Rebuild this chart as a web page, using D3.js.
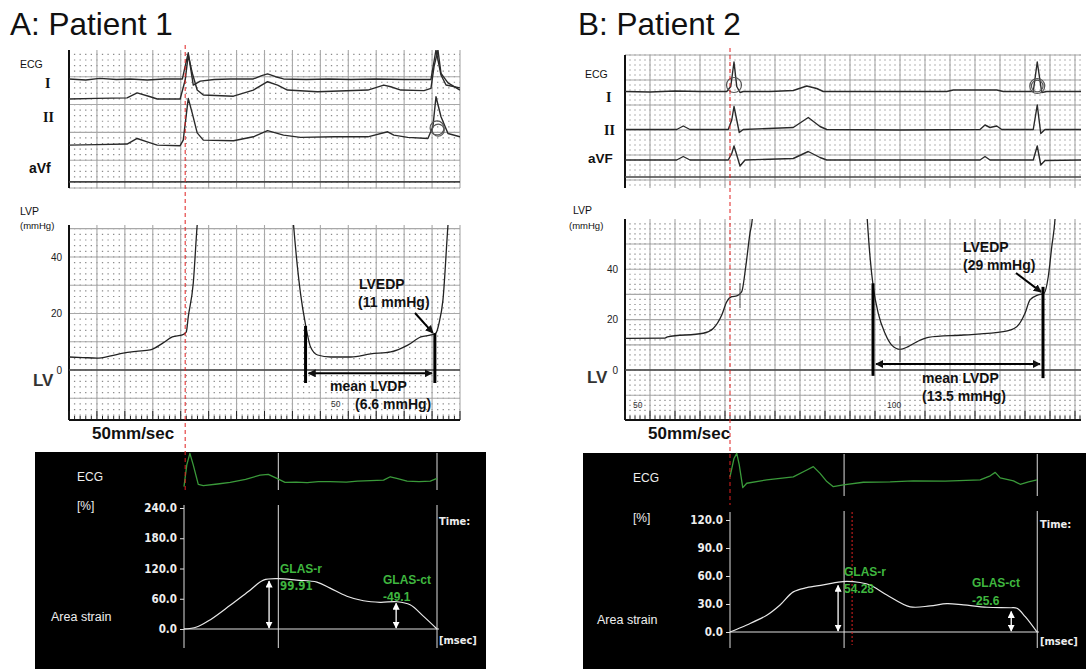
<!DOCTYPE html>
<html>
<head>
<meta charset="utf-8">
<script src="https://cdn.jsdelivr.net/npm/d3@7"></script>
<style>
  body { margin: 0; background: #fff; }
  svg { display: block; font-family: Arial, "Liberation Sans", sans-serif; }
</style>
</head>
<body>
<svg width="1086" height="669"></svg>
<script>
// ---------------- data ----------------
// ECG strips: time in ms (50 mm/sec paper), amplitude in paper mm above strip bottom
var ecgA_I   = [[0,19.6],[60,19.4],[110,19.7],[170,19.5],[219,19.6],[280,19.4],[340,19.6],[406,19.6],[416,21.9],[427,24.3],[445,18.5],[470,19.2],[520,19.5],[578,19.6],[660,19.6],[690,20.2],[711,20.5],[740,20.0],[768,19.6],[850,19.5],[930,19.6],[1009,19.5],[1100,19.6],[1200,19.5],[1296,19.5],[1314,24.8],[1332,20.3],[1350,18.5],[1400,18.0]];
var ecgA_I2  = [[0,16.0],[100,16.1],[208,16.2],[244,17.1],[291,16.4],[316,16.0],[398,16.0],[416,19.4],[427,23.9],[441,20.7],[459,17.6],[481,16.7],[589,16.5],[660,17.6],[711,19.1],[747,18.5],[782,17.6],[890,17.3],[1070,17.6],[1127,18.5],[1152,18.2],[1188,17.6],[1271,17.5],[1296,17.9],[1307,21.8],[1321,24.8],[1332,20.6],[1357,18.9],[1400,17.6]];
var ecgA_II  = [[0,7.7],[100,7.8],[208,7.9],[244,8.9],[280,8.3],[316,7.7],[398,7.6],[409,8.6],[427,16.1],[441,13.5],[459,9.9],[481,8.6],[589,8.5],[660,9.2],[711,10.3],[768,9.5],[829,9.1],[950,9.2],[1070,9.2],[1141,10.1],[1163,9.5],[1213,9.1],[1285,8.9],[1303,11.0],[1314,16.4],[1332,12.8],[1357,9.8],[1400,9.2]];
var ecgB_I   = [[0,17.7],[100,17.6],[200,17.8],[300,17.7],[407,17.7],[423,18.7],[436,23.6],[447,18.7],[460,17.5],[473,17.7],[580,17.7],[673,17.9],[727,18.8],[767,18.3],[793,17.7],[1000,17.7],[1287,17.7],[1313,18.0],[1487,18.0],[1513,17.7],[1633,17.7],[1649,23.6],[1667,17.5],[1687,17.7],[1824,17.7]];
var ecgB_II  = [[0,10.1],[207,10.1],[233,10.8],[260,10.1],[413,10.1],[427,12.0],[436,14.7],[447,12.0],[457,9.5],[473,10.1],[673,10.5],[733,12.5],[780,10.7],[807,10.1],[1100,10.0],[1420,10.1],[1440,11.0],[1460,10.5],[1487,10.8],[1507,10.1],[1633,10.1],[1649,15.0],[1663,9.3],[1680,10.1],[1824,10.1]];
var ecgB_aVF = [[0,4.0],[207,4.0],[233,4.7],[260,4.0],[413,4.0],[427,5.3],[436,6.8],[447,5.0],[460,2.8],[480,4.0],[673,4.3],[733,5.7],[780,4.5],[807,4.0],[1100,4.0],[1420,4.0],[1440,4.7],[1460,4.0],[1633,4.0],[1649,6.8],[1663,3.0],[1680,3.9],[1824,4.0]];

// LV pressure (ms, mmHg), two beats per patient
var lvpA1 = [[0,4.6],[50,4.4],[100,4.2],[150,5.0],[194,6.0],[240,6.6],[291,7.1],[337,9.6],[370,11.7],[406,12.4],[420,13.5],[427,18.8],[445,30.8],[459,51.3],[467,60]];
var lvpA2 = [[797,60],[804,51.3],[829,27],[847,16],[865,8.1],[890,5.3],[937,4.6],[1009,4.6],[1080,5.7],[1152,6.4],[1213,8.8],[1260,11.7],[1296,12.4],[1314,13.1],[1325,16.6],[1339,24.8],[1357,51.3],[1364,60]];
var lvpB1 = [[0,12.6],[160,12.7],[170,13.2],[313,14.6],[353,16.5],[387,21.8],[407,27.1],[427,29.1],[447,29.4],[467,31.1],[483,41],[500,54.4],[509,59.8],[513,66]];
var lvpB2 = [[965,66],[969,59.8],[980,45],[993,33],[1013,22.5],[1040,14.6],[1067,9.9],[1100,8.2],[1133,9.3],[1167,11.2],[1213,13],[1353,13.9],[1513,15.2],[1567,17.2],[1600,22.5],[1620,27.8],[1653,29.8],[1676,30.4],[1693,37],[1707,48.9],[1720,59.8],[1724,66]];
var lvpTicks = [0, 20, 40];
var diastoleA = [847, 1310];   // ms, start / end of mean LVDP window
var diastoleB = [992, 1672];
var onsetA = 416, onsetB = 420; // QRS onset (red dashed line)

// Area strain (ms from QRS onset, %)
var strainA = [[0,0],[45,4],[93,18],[165,47],[236,77],[284,97],[337,99.9],[403,97],[475,93],[522,81],[582,65],[641,56],[701,53],[761,54],[808,48],[856,25],[904,0]];
var strainB = [[0,0],[67,7.5],[147,18],[200,29],[253,43],[307,47.5],[373,50.4],[433,53.5],[467,54.3],[520,53],[560,50.4],[627,39.7],[720,27],[800,28],[867,30.3],[933,29],[1027,26.5],[1120,26],[1147,25.4],[1180,16.4],[1227,0]];
var strainTicksA = [0, 60, 120, 180, 240];
var strainTicksB = [0, 30, 60, 90, 120];
var monA = [[0,-0.02],[10,0.64],[21,0.99],[33,0.64],[51,0.05],[69,0.01],[120,0.06],[165,0.11],[220,0.2],[272,0.33],[301,0.35],[332,0.23],[361,0.11],[400,0.12],[440,0.1],[480,0.13],[522,0.13],[580,0.12],[620,0.15],[713,0.18],[737,0.28],[760,0.23],[797,0.15],[840,0.13],[880,0.15],[904,0.23]];
var monB = [[0,0.30],[16,0.84],[27,0.99],[37,0.65],[51,-0.02],[67,0.11],[147,0.21],[253,0.30],[307,0.50],[333,0.60],[360,0.40],[387,0.16],[413,0.01],[453,0.06],[533,0.14],[640,0.15],[733,0.18],[860,0.17],[1000,0.21],[1040,0.33],[1060,0.43],[1080,0.27],[1133,0.18],[1160,0.08],[1193,0.15],[1227,0.21]];
var glasA = [[304, 97], [758, 53]];   // [time, value] of GLAS-r / GLAS-ct arrows
var glasB = [[432, 51], [1124, 23]];
var marksA = [337, 904], marksB = [456, 1228]; // ES / ED verticals
var esDotB = 488;

// ---------------- helpers ----------------
var svg = d3.select("svg");
var defs = svg.append("defs");

function marker(id, color, size) {
  defs.append("marker")
    .attr("id", id).attr("viewBox", "0 0 10 10")
    .attr("refX", 9).attr("refY", 5)
    .attr("markerWidth", size).attr("markerHeight", size)
    .attr("orient", "auto-start-reverse")
    .append("path").attr("d", "M0,0L10,5L0,10z").attr("fill", color);
}
marker("ahB", "#111", 4);
marker("ahW", "#fff", 5.5);

function steps(d, s) {
  var a = [];
  for (var i = Math.ceil(d[0] / s); i * s <= d[1] + 1e-6; i++) a.push(+(i * s).toFixed(4));
  return a;
}

function paper(g, x, y, xMaj, yMaj, xMin, yMin) {
  var xr = x.range(), yr = y.range();
  var dx = Math.abs(x(xMin) - x(0));
  var off = x(0) - x(steps(x.domain(), xMin)[0]);
  // minor grid: dots at the small-square corners
  g.selectAll(null).data(steps(y.domain(), yMin)).enter().append("line")
    .attr("y1", d => y(d)).attr("y2", d => y(d)).attr("x1", xr[0]).attr("x2", xr[1])
    .attr("stroke", "#8a8a8a").attr("stroke-width", 1.2)
    .attr("stroke-dasharray", "1.3," + (dx - 1.3)).attr("stroke-dashoffset", 0.65 + off);
  g.selectAll(null).data(steps(x.domain(), xMaj)).enter().append("line")
    .attr("x1", d => x(d)).attr("x2", d => x(d)).attr("y1", yr[0]).attr("y2", yr[1])
    .attr("stroke", "#a8a8a8").attr("stroke-width", 1.1);
  g.selectAll(null).data(steps(y.domain(), yMaj)).enter().append("line")
    .attr("y1", d => y(d)).attr("y2", d => y(d)).attr("x1", xr[0]).attr("x2", xr[1])
    .attr("stroke", "#a8a8a8").attr("stroke-width", 1.1);
  // left border
  g.append("line").attr("x1", xr[0]).attr("x2", xr[0]).attr("y1", yr[0]).attr("y2", yr[1])
    .attr("stroke", "#111").attr("stroke-width", 2);
}

function txt(x, y, s, size, opt) {
  opt = opt || {};
  return svg.append("text").attr("x", x).attr("y", y).text(s)
    .attr("font-size", size)
    .attr("font-weight", opt.w || "normal")
    .attr("font-family", opt.f || null)
    .attr("text-anchor", opt.a || "start")
    .attr("fill", opt.c || "#111");
}

function trace(g, data, x, y, color, w, curve) {
  g.append("path").datum(data)
    .attr("fill", "none").attr("stroke", color).attr("stroke-width", w)
    .attr("stroke-linejoin", "round")
    .attr("d", d3.line().curve(curve || d3.curveLinear).x(d => x(d[0])).y(d => y(d[1])));
}

function clip(id, x, y) {
  defs.append("clipPath").attr("id", id).append("rect")
    .attr("x", x.range()[0]).attr("y", y.range()[1])
    .attr("width", x.range()[1] - x.range()[0]).attr("height", y.range()[0] - y.range()[1]);
}

// ---------------- panel builder ----------------
function panel(p) {
  txt(p.titleX, 35, p.title, 31.5, {c: "#111"});

  // ---- ECG strip ----
  var ex = d3.scaleLinear().domain(p.tDom).range(p.xRange);
  var ey = d3.scaleLinear().domain(p.ecgDom).range(p.ecgY);
  clip("ce" + p.id, ex, ey);
  var ge = svg.append("g");
  paper(ge, ex, ey, 100, 5, 20, 1);
  ge.append("line").attr("x1", p.xRange[0]).attr("x2", p.xRange[1])
    .attr("y1", ey(p.ecgBase)).attr("y2", ey(p.ecgBase)).attr("stroke", "#444").attr("stroke-width", 1.6);
  var gt = ge.append("g").attr("clip-path", "url(#ce" + p.id + ")");
  p.leads.forEach(function(L) { trace(gt, L, ex, ey, "#2a2a2a", 1.4); });
  p.circles.forEach(function(c) {
    ge.append("circle").attr("cx", ex(c[0])).attr("cy", ey(c[1])).attr("r", c[2])
      .attr("fill", "none").attr("stroke", "#555").attr("stroke-width", 1.2);
  });

  // ---- LVP strip ----
  var ly = d3.scaleLinear().domain(p.lvpDom).range(p.lvpY);
  clip("cl" + p.id, ex, ly);
  var gl = svg.append("g");
  paper(gl, ex, ly, 100, 10, 20, 2);
  gl.append("line").attr("x1", p.xRange[0]).attr("x2", p.xRange[1])
    .attr("y1", ly(0)).attr("y2", ly(0)).attr("stroke", "#444").attr("stroke-width", 1.4);
  // ruler ticks along bottom
  gl.selectAll(null).data(steps(p.tDom, 20)).enter().append("line")
    .attr("x1", d => ex(d)).attr("x2", d => ex(d))
    .attr("y1", p.lvpY[0]).attr("y2", d => p.lvpY[0] - (d % 100 === 0 ? 9 : 4))
    .attr("stroke", "#222").attr("stroke-width", 1);
  gl.append("line").attr("x1", p.xRange[0]).attr("x2", p.xRange[1])
    .attr("y1", p.lvpY[0]).attr("y2", p.lvpY[0]).attr("stroke", "#111").attr("stroke-width", 2);
  var gp = gl.append("g").attr("clip-path", "url(#cl" + p.id + ")");
  trace(gp, p.lvp1, ex, ly, "#222", 1.3, d3.curveMonotoneX);
  trace(gp, p.lvp2, ex, ly, "#222", 1.3, d3.curveMonotoneX);
  (p.pins || []).forEach(function(pn) {
    gl.append("line").attr("x1", ex(pn[0])).attr("x2", ex(pn[0]))
      .attr("y1", ly(pn[1])).attr("y2", ly(pn[2])).attr("stroke", "#555").attr("stroke-width", 1);
  });
  // y axis
  var ax = svg.append("g").attr("transform", "translate(" + p.xRange[0] + ",0)")
    .call(d3.axisLeft(ly).tickValues(lvpTicks).tickSize(0).tickPadding(p.tickPad));
  ax.select(".domain").remove();
  ax.selectAll("text").attr("font-size", 10).attr("fill", "#222").attr("font-family", "Arial, sans-serif");

  // mean LVDP bars and arrow
  var d0 = ex(p.dia[0]), d1 = ex(p.dia[1]);
  p.bars.forEach(function(b, i) {
    gl.append("line").attr("x1", ex(p.dia[i])).attr("x2", ex(p.dia[i]))
      .attr("y1", ly(b[0])).attr("y2", ly(b[1])).attr("stroke", "#000").attr("stroke-width", 3);
  });
  gl.append("line").attr("x1", d0 + 3).attr("x2", d1 - 3)
    .attr("y1", ly(p.arrowV)).attr("y2", ly(p.arrowV))
    .attr("stroke", "#000").attr("stroke-width", 2)
    .attr("marker-start", "url(#ahB)").attr("marker-end", "url(#ahB)");
  // LVEDP pointer
  gl.append("line").attr("x1", p.ptr[0]).attr("y1", p.ptr[1])
    .attr("x2", ex(p.dia[1]) - 2).attr("y2", ly(p.edp) - 2)
    .attr("stroke", "#000").attr("stroke-width", 2).attr("marker-end", "url(#ahB)");

  // ---- black strain panel ----
  svg.append("rect").attr("x", p.blk[0]).attr("y", p.blk[1])
    .attr("width", p.blk[2]).attr("height", 669 - p.blk[1]).attr("fill", "#000");
  var sx = d3.scaleLinear().domain([0, p.strain[p.strain.length - 1][0]]).range(p.sRange);
  var sy = d3.scaleLinear().domain([0, p.sTicks[p.sTicks.length - 1]]).range(p.sY);
  var my = d3.scaleLinear().domain([0, 1]).range(p.monY);
  var gs = svg.append("g");
  gs.append("line").attr("x1", sx(0)).attr("x2", sx(0)).attr("y1", p.axTop).attr("y2", 648)
    .attr("stroke", "#ddd").attr("stroke-width", 1);
  p.marks.forEach(function(m) {
    gs.append("line").attr("x1", sx(m)).attr("x2", sx(m)).attr("y1", p.blk[1] + 1).attr("y2", p.gapTop)
      .attr("stroke", "#ddd").attr("stroke-width", 1);
    gs.append("line").attr("x1", sx(m)).attr("x2", sx(m)).attr("y1", p.gapTop + 15).attr("y2", 648)
      .attr("stroke", "#ddd").attr("stroke-width", 1);
  });
  gs.append("line").attr("x1", sx(0)).attr("x2", sx.range()[1] + 2).attr("y1", sy(0)).attr("y2", sy(0))
    .attr("stroke", "#ddd").attr("stroke-width", 1.2);
  if (p.esDot) {
    gs.append("line").attr("x1", sx(p.esDot)).attr("x2", sx(p.esDot)).attr("y1", p.axTop).attr("y2", 645)
      .attr("stroke", "#e02020").attr("stroke-width", 1).attr("stroke-dasharray", "2,2");
  }
  var sa = gs.append("g").attr("transform", "translate(" + sx(0) + ",0)")
    .call(d3.axisLeft(sy).tickValues(p.sTicks).tickFormat(d3.format(".1f")).tickSize(4).tickPadding(3));
  sa.select(".domain").remove();
  sa.selectAll("line").attr("stroke", "#ddd");
  sa.selectAll("text").attr("fill", "#eee").attr("font-size", 11.5).attr("font-weight", "bold")
    .attr("font-family", "'DejaVu Sans Condensed', 'Liberation Sans Narrow', sans-serif");
  trace(gs, p.mon, sx, my, "#3a9a3a", 1.3);
  trace(gs, p.strain, sx, sy, "#e8e8e8", 1.2, d3.curveCatmullRom.alpha(0.5));
  p.glas.forEach(function(gv) {
    gs.append("line").attr("x1", sx(gv[0])).attr("x2", sx(gv[0]))
      .attr("y1", sy(0) - 1).attr("y2", sy(gv[1]) + 1)
      .attr("stroke", "#fff").attr("stroke-width", 1.3)
      .attr("marker-start", "url(#ahW)").attr("marker-end", "url(#ahW)");
  });

  // red dashed onset line
  svg.append("line").attr("x1", ex(p.onset)).attr("x2", ex(p.onset))
    .attr("y1", p.redY[0]).attr("y2", p.redY[1])
    .attr("stroke", "#e02020").attr("stroke-width", 1).attr("stroke-dasharray", "4,3");
}

// ---------------- patient 1 ----------------
panel({
  id: "A", title: "A: Patient 1", titleX: 10,
  tDom: [0, 1400], xRange: [69, 460],
  ecgDom: [0, 24.8], ecgY: [188, 50], ecgBase: 1.1,
  leads: [ecgA_I, ecgA_I2, ecgA_II],
  circles: [[1318, 10.8, 7], [1322, 10.4, 6]],
  lvpDom: [-17.7, 51.3], lvpY: [420, 225], tickPad: 7,
  lvp1: lvpA1, lvp2: lvpA2, dia: diastoleA,
  bars: [[15.6, -4.6], [13, -4.6]], arrowV: -1.2, edp: 12.4, ptr: [415, 313],
  onset: onsetA, redY: [45, 492],
  blk: [35, 452, 451], strain: strainA, sRange: [184, 437], sY: [629, 508], sTicks: strainTicksA,
  mon: monA, monY: [486, 453], marks: marksA, gapTop: 490, axTop: 505,
  glas: glasA
});

// ---------------- patient 2 ----------------
panel({
  id: "B", title: "B: Patient 2", titleX: 578,
  tDom: [0, 1824], xRange: [625, 1081],
  ecgDom: [-1.6, 25], ecgY: [188, 55], ecgBase: 0.6,
  leads: [ecgB_I, ecgB_II, ecgB_aVF],
  circles: [[436, 19, 7.5], [1649, 18.8, 7.5], [1649, 18.8, 5.8]],
  lvpDom: [-19.8, 59.9], lvpY: [420, 219], tickPad: 7,
  lvp1: lvpB1, lvp2: lvpB2, dia: diastoleB,
  pins: [[460, 34.5, 24.6], [1100, 13.5, 3.2]],
  bars: [[34.4, -2.3], [33, -3.2]], arrowV: 2.4, edp: 30.2, ptr: [1016, 273],
  onset: onsetB, redY: [48, 505],
  blk: [583, 453, 503], strain: strainB, sRange: [730, 1037], sY: [632, 520], sTicks: strainTicksB,
  mon: monB, monY: [487, 453], marks: marksB, gapTop: 496, axTop: 512,
  glas: glasB, esDot: esDotB
});

// ---------------- labels ----------------
var serif = "'Liberation Serif', 'DejaVu Serif', serif";
var cond = "'DejaVu Sans Condensed', sans-serif";
// patient 1
txt(20, 68, "ECG", 10.5);
txt(45, 88, "I", 14, {w: "bold", f: serif});
txt(43, 122, "II", 14, {w: "bold", f: serif});
txt(29, 173, "aVf", 14, {w: "bold"});
txt(20, 215, "LVP", 10.5);
txt(20, 229, "(mmHg)", 9.5);
txt(33, 386, "LV", 17, {w: "bold", c: "#333"});
txt(331, 407, "50", 8.5, {c: "#333"});
txt(359, 289, "LVEDP", 14, {w: "bold"});
txt(358, 307, "(11 mmHg)", 14, {w: "bold"});
txt(330, 391, "mean LVDP", 14, {w: "bold"});
txt(355, 409, "(6.6 mmHg)", 14, {w: "bold"});
txt(92, 439, "50mm/sec", 17, {w: "bold"});
txt(77, 481, "ECG", 12, {c: "#eee"});
txt(77, 510, "[%]", 12, {c: "#eee"});
txt(51, 621, "Area strain", 12.5, {c: "#eee"});
txt(439, 525, "Time:", 11, {c: "#eee", w: "bold", f: cond});
txt(439, 644, "[msec]", 11, {c: "#eee", w: "bold", f: cond});
txt(280, 573, "GLAS-r", 12, {c: "#3fb63f", w: "bold"});
txt(280, 590, "99.91", 11.5, {c: "#3fb63f", w: "bold", f: cond});
txt(383, 584, "GLAS-ct", 12, {c: "#3fb63f", w: "bold"});
txt(383, 601, "-49.1", 12, {c: "#3fb63f", w: "bold"});

// patient 2
txt(585, 78, "ECG", 10.5);
txt(606, 102, "I", 14, {w: "bold", f: serif});
txt(604, 135, "II", 14, {w: "bold", f: serif});
txt(588, 163, "aVF", 13.5, {w: "bold"});
txt(573, 214, "LVP", 10.5);
txt(569, 229, "(mmHg)", 9.5);
txt(587, 383, "LV", 17, {w: "bold", c: "#333"});
txt(633, 408, "50", 8.5, {c: "#333"});
txt(887, 408, "100", 8.5, {c: "#333"});
txt(963, 252, "LVEDP", 14, {w: "bold"});
txt(963, 270, "(29 mmHg)", 14, {w: "bold"});
txt(922, 383, "mean LVDP", 14, {w: "bold"});
txt(922, 401, "(13.5 mmHg)", 14, {w: "bold"});
txt(648, 439, "50mm/sec", 17, {w: "bold"});
txt(633, 482, "ECG", 12, {c: "#eee"});
txt(633, 522, "[%]", 12, {c: "#eee"});
txt(597, 624, "Area strain", 12.5, {c: "#eee"});
txt(1040, 528, "Time:", 11, {c: "#eee", w: "bold", f: cond});
txt(1040, 645, "[msec]", 11, {c: "#eee", w: "bold", f: cond});
txt(844, 576, "GLAS-r", 12, {c: "#3fb63f", w: "bold"});
txt(844, 593, "54.28", 12, {c: "#3fb63f", w: "bold"});
txt(972, 587, "GLAS-ct", 12, {c: "#3fb63f", w: "bold"});
txt(972, 605, "-25.6", 12, {c: "#3fb63f", w: "bold"});
</script>
</body>
</html>
